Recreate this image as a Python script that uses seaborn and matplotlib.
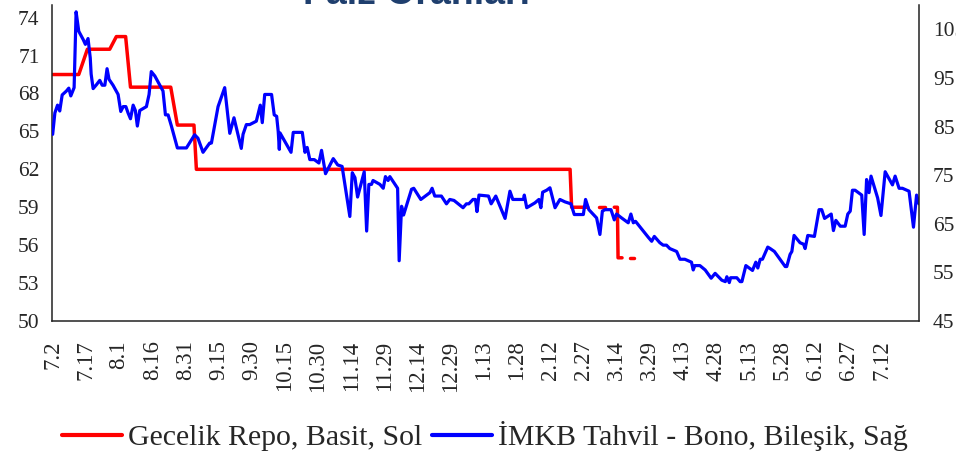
import numpy as np
import pandas as pd
import matplotlib
matplotlib.use("Agg")
import matplotlib.pyplot as plt
from matplotlib.lines import Line2D
import seaborn as sns

# ---------------- data ----------------
# x axis: days counted from 7.2 ; tick labels every 15 days
tick_labels = ["7.2", "7.17", "8.1", "8.16", "8.31", "9.15", "9.30", "10.15",
               "10.30", "11.14", "11.29", "12.14", "12.29", "1.13", "1.28",
               "2.12", "2.27", "3.14", "3.29", "4.13", "4.28", "5.13", "5.28",
               "6.12", "6.27", "7.12"]

# Gecelik Repo, Basit (left axis) - NaN marks missing data (gaps)
repo_day = [0.0, 11.8, 15.7, 25.8, 28.8, 33.0, 35.2, 53.4, 56.4, 63.9, 65.0,
            234.0, 234.7, 242.0, 244.5, 247.0, 250.0, 252.0, 254.0, 255.4,
            255.7, 257.5, 259.0, 261.0, 263.0]
repo_val = [69.5, 69.5, 71.5, 71.5, 72.5, 72.5, 68.5, 68.5, 65.5, 65.5, 62.0,
            62.0, 59.0, 59.0, np.nan, 59.0, 59.0, np.nan, 59.0, 59.0,
            55.0, 55.0, np.nan, 55.0, 55.0]

# IMKB Tahvil - Bono, Bilesik (right axis)
bond_day = [0.0, 1.0, 2.2, 3.2, 4.3, 6.2, 7.3, 8.2, 9.7, 10.6, 11.8, 13.8, 14.8,
            16.0, 17.0, 17.4, 18.3, 19.8, 21.3, 22.4, 23.6, 24.6, 25.5, 27.3,
            29.6, 30.8, 31.9, 33.1, 34.1, 35.2, 36.4, 37.4, 38.3, 39.4, 42.4,
            43.6, 44.6, 46.2, 49.9, 51.0, 52.2, 53.7, 56.4, 60.5, 64.2, 65.7,
            68.0, 71.0, 71.8, 74.8, 77.8, 80.1, 82.0, 85.3, 86.1, 87.6, 89.1,
            92.1, 93.9, 94.8, 95.9, 99.0, 100.2, 101.3, 102.0, 102.5, 102.8,
            107.8, 108.8, 112.9, 114.1, 115.1, 116.3, 118.3, 120.4, 121.6,
            123.4, 126.9, 128.9, 130.9, 134.4, 135.5, 136.7, 137.9, 140.9,
            142.0, 143.0, 144.2, 144.9, 148.0, 149.5, 150.5, 151.7, 152.5,
            156.0, 156.7, 157.8, 158.7, 162.3, 163.3, 166.5, 170.6, 171.6,
            172.8, 175.8, 178.1, 179.6, 181.5, 185.6, 187.1, 188.2, 190.1,
            191.2, 191.9, 192.8, 197.1, 198.3, 200.4, 204.6, 206.8, 208.1,
            212.9, 213.3, 214.4, 218.1, 219.9, 220.8, 221.6, 223.4, 224.9,
            227.2, 229.4, 231.7, 234.4, 235.9, 240.0, 241.0, 242.5, 246.0,
            247.5, 248.6, 249.8, 252.5, 254.0, 255.0, 257.3, 260.3, 261.5,
            262.6, 263.6, 267.8, 269.4, 270.9, 272.1, 274.6, 276.1, 277.6,
            279.1, 282.2, 283.7, 285.9, 288.9, 289.7, 290.4, 292.7, 295.1,
            297.8, 299.6, 302.6, 304.2, 304.9, 306.0, 306.6, 309.4, 310.9,
            311.7, 313.5, 316.5, 318.0, 318.9, 320.0, 321.0, 323.4, 324.5,
            326.4, 331.3, 332.0, 333.5, 334.3, 335.3, 338.0, 339.6, 340.3,
            341.5, 344.5, 346.6, 347.8, 349.1, 352.1, 353.1, 354.2, 356.2,
            358.4, 359.6, 360.7, 361.7, 362.9, 365.9, 367.0, 368.1, 369.2,
            370.1, 373.1, 374.6, 376.5, 379.8, 381.0, 382.8, 384.3, 387.3,
            389.3, 390.7, 391.8]
bond_val = [83.4, 87.8, 89.4, 88.2, 91.5, 92.3, 92.9, 91.3, 93.0, 108.6, 104.6,
            102.9, 101.9, 103.1, 99.1, 95.8, 92.8, 93.6, 94.5, 93.5, 93.5, 96.9,
            94.7, 93.5, 91.6, 88.1, 89.1, 89.1, 87.8, 86.6, 89.4, 88.3, 85.1,
            88.3, 89.1, 91.6, 96.3, 95.4, 92.3, 87.4, 87.4, 85.1, 80.6, 80.6,
            83.3, 82.6, 79.7, 81.6, 81.6, 89.1, 93.0, 83.6, 86.8, 80.5, 83.4,
            85.4, 85.4, 86.1, 89.4, 85.8, 91.6, 91.6, 87.4, 87.1, 84.0, 80.3,
            83.7, 79.7, 83.8, 83.8, 79.7, 80.7, 78.2, 78.2, 77.5, 80.1, 75.3,
            78.4, 77.1, 76.8, 66.5, 75.5, 74.5, 70.5, 75.7, 63.5, 73.1, 73.1,
            73.9, 73.1, 72.3, 74.7, 73.9, 74.7, 72.3, 57.4, 68.6, 66.8, 72.1,
            72.3, 70.0, 71.4, 72.3, 70.7, 70.7, 69.1, 70.0, 69.8, 68.3, 69.1,
            69.1, 70.0, 70.0, 67.5, 70.9, 70.7, 69.1, 70.7, 66.1, 71.7, 70.0,
            70.0, 70.9, 68.3, 69.3, 70.0, 68.3, 71.5, 71.9, 72.4, 68.3, 70.0,
            69.5, 69.1, 66.9, 66.9, 70.0, 67.9, 66.2, 62.8, 67.6, 67.9, 67.9,
            65.8, 67.0, 66.2, 65.2, 67.0, 65.2, 65.5, 63.1, 62.2, 61.4, 62.4,
            61.1, 60.6, 60.6, 59.9, 59.3, 57.7, 57.7, 57.1, 55.5, 56.4, 56.4,
            55.5, 53.8, 54.8, 53.4, 53.1, 54.1, 52.9, 53.9, 53.9, 53.1, 53.1,
            56.4, 55.4, 57.1, 55.9, 57.7, 57.7, 60.2, 59.9, 59.3, 56.2, 56.2,
            58.7, 59.3, 62.6, 61.1, 60.8, 59.9, 62.6, 62.4, 67.9, 67.9, 66.1,
            67.0, 63.6, 65.7, 64.5, 64.5, 67.0, 67.6, 71.9, 71.9, 70.9, 62.8,
            74.1, 71.4, 74.8, 70.3, 66.7, 75.7, 73.0, 74.8, 72.3, 72.3, 71.7,
            64.3, 70.9, 69.1]

title_text = "Faiz Oranları"
label_repo = "Gecelik Repo, Basit, Sol"
label_bond = "İMKB Tahvil - Bono, Bileşik, Sağ"

left_ticks = [50, 53, 56, 59, 62, 65, 68, 71, 74]
right_ticks = [45, 55, 65, 75, 85, 95, 105]

# ---------------- figure ----------------
sns.set_style("white")
plt.rcParams["font.family"] = ["Liberation Serif", "DejaVu Serif"]

RED = "#FF0000"
BLUE = "#0000FF"

repo_df = pd.DataFrame({"day": repo_day, "rate": repo_val})
repo_df["seg"] = repo_df["rate"].isna().cumsum()
repo_df = repo_df.dropna()
bond_df = pd.DataFrame({"day": bond_day, "yield": bond_val})

fig = plt.figure(figsize=(9.56, 4.63), dpi=100)
ax = fig.add_axes([52 / 956, 1 - 321 / 463, (919 - 52) / 956, (321 - 5) / 463])
ax2 = ax.twinx()

sns.lineplot(data=repo_df, x="day", y="rate", units="seg", estimator=None,
             sort=False, color=RED, lw=2.5, ax=ax, legend=False)
sns.lineplot(data=bond_df, x="day", y="yield", estimator=None, sort=False,
             color=BLUE, lw=2.3, ax=ax2, legend=False)
for ln in ax.get_lines() + ax2.get_lines():
    ln.set_solid_joinstyle("round")

ax.set_xlim(-0.3, 391.8)
ax.set_ylim(50, 75)
ax2.set_ylim(45, 110)
ax.set_xticks(np.arange(len(tick_labels)) * 15)
ax.set_xticklabels(tick_labels, rotation=90, fontsize=16.5)
ax.set_yticks(left_ticks)
ax.set_yticklabels([str(t) for t in left_ticks], fontsize=15.5)
ax2.set_yticks(right_ticks)
ax2.set_yticklabels([str(t) for t in right_ticks], fontsize=15.5)
for a in (ax, ax2):
    a.set_xlabel("")
    a.set_ylabel("")
    a.grid(False)
ax.tick_params(axis="x", length=0, pad=14)
ax.tick_params(axis="y", length=0, pad=9)
ax2.tick_params(axis="y", length=0, pad=10)

ax.spines["top"].set_visible(False)
ax.spines["right"].set_visible(False)
ax2.spines["top"].set_visible(False)
ax2.spines["left"].set_visible(False)
ax2.spines["bottom"].set_visible(False)
for sp in ("left", "bottom"):
    ax.spines[sp].set_color("#222222")
    ax.spines[sp].set_linewidth(1.1)
ax2.spines["right"].set_color("#222222")
ax2.spines["right"].set_linewidth(1.1)

fig.text(0.436, 1 - 4 / 463, title_text, ha="center", va="baseline",
         fontsize=27, fontweight="bold", color="#1F3F6E",
         family=["Liberation Sans", "DejaVu Sans"])

handles = [Line2D([], [], color=RED, lw=3.0), Line2D([], [], color=BLUE, lw=3.0)]
fig.legend(handles, [label_repo, label_bond], loc="center",
           bbox_to_anchor=(0.507, 0.058), ncol=2, frameon=False, fontsize=21.5,
           handlelength=2.0, handletextpad=0.2, columnspacing=0.33,
           borderpad=0, borderaxespad=0)

fig.savefig("out.png", dpi=100)
